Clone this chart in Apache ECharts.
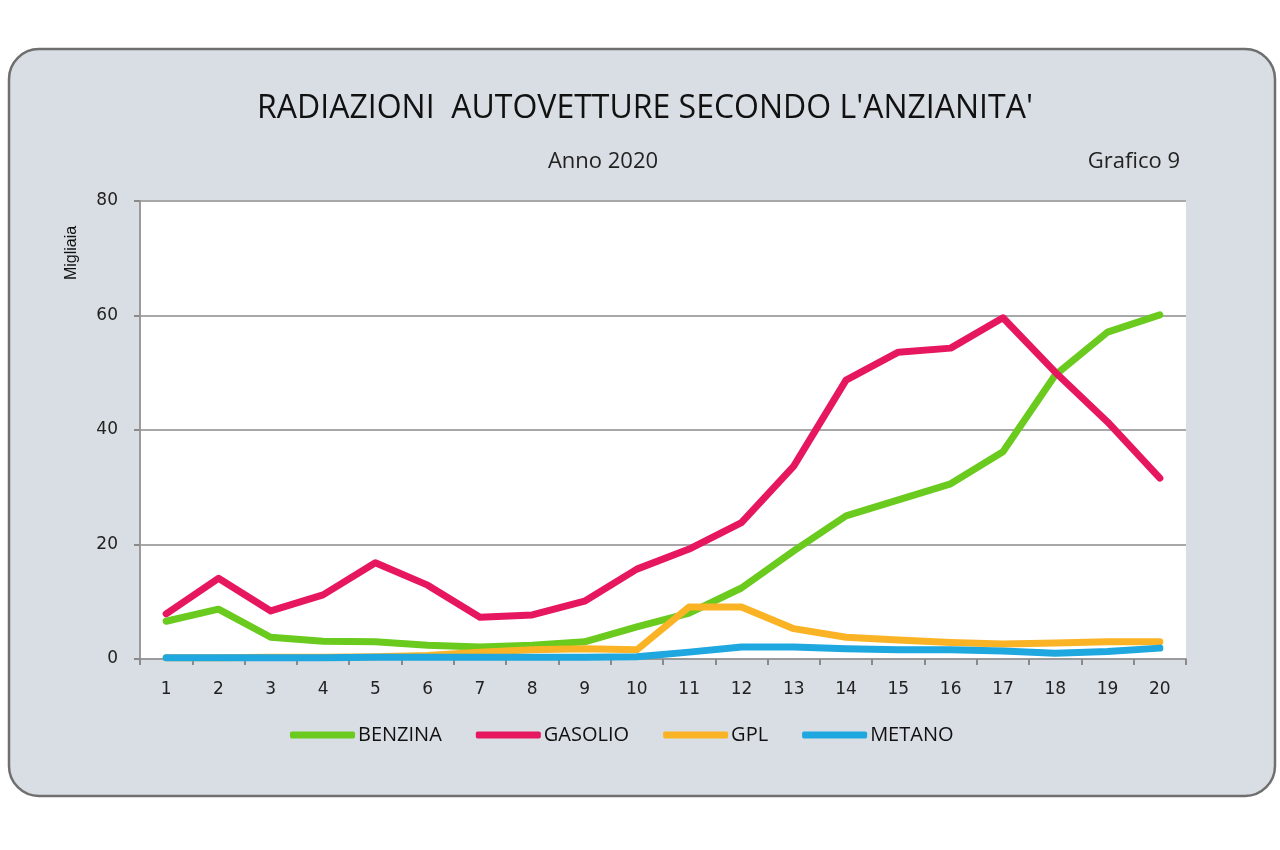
<!DOCTYPE html>
<html>
<head>
<meta charset="utf-8">
<script src="https://cdn.jsdelivr.net/npm/echarts@6/dist/echarts.min.js"></script>
<style>html,body{margin:0;padding:0;background:#fff;}#c{width:1280px;height:850px;}</style>
</head>
<body>
<div id="c"></div>
<script>
const categories = ['1','2','3','4','5','6','7','8','9','10','11','12','13','14','15','16','17','18','19','20'];
const benzina = [6.6, 8.7, 3.8, 3.1, 3.0, 2.4, 2.1, 2.4, 3.0, 5.6, 8.0, 12.4, 18.9, 25.0, 27.8, 30.6, 36.2, 49.6, 57.1, 60.1];
const gasolio = [7.9, 14.1, 8.4, 11.2, 16.8, 12.9, 7.3, 7.7, 10.1, 15.7, 19.2, 23.8, 33.7, 48.7, 53.6, 54.3, 59.6, 50.1, 41.4, 31.6];
const gpl = [0.2, 0.2, 0.3, 0.3, 0.4, 0.6, 1.2, 1.6, 1.8, 1.6, 9.1, 9.1, 5.3, 3.8, 3.3, 2.9, 2.6, 2.8, 3.0, 3.0];
const metano = [0.2, 0.2, 0.2, 0.2, 0.3, 0.3, 0.3, 0.3, 0.3, 0.4, 1.2, 2.1, 2.1, 1.8, 1.6, 1.6, 1.4, 1.0, 1.3, 1.9];
const yTicks = [0, 20, 40, 60, 80];

const FONT = '"Open Sans", sans-serif';
const chart = echarts.init(document.getElementById('c'));
const mk = (name, data, color) => ({
  name, type: 'line', data, symbol: 'none', smooth: false,
  lineStyle: { color, width: 7, cap: 'round', join: 'round' },
  itemStyle: { color }
});
chart.setOption({
  animation: false,
  backgroundColor: '#ffffff',
  graphic: [
    { type: 'rect', z: -10, shape: { x: 9, y: 49, width: 1266, height: 747, r: 30 },
      style: { fill: '#d9dee4', stroke: '#6f6f6f', lineWidth: 2.5 } },
    { type: 'rect', z: -9, shape: { x: 140, y: 201, width: 1046, height: 458 },
      style: { fill: '#ffffff' } },
    { type: 'text', x: 645, y: 109, style: { text: "RADIAZIONI  AUTOVETTURE SECONDO L'ANZIANITA'", font: '32px ' + FONT, fill: '#111', align: 'center', verticalAlign: 'middle' } },
    { type: 'text', x: 603, y: 162, style: { text: 'Anno 2020', font: '22px ' + FONT, fill: '#222', align: 'center', verticalAlign: 'middle' } },
    { type: 'text', x: 1180, y: 162, style: { text: 'Grafico 9', font: '22px ' + FONT, fill: '#222', align: 'right', verticalAlign: 'middle' } },
    { type: 'text', x: 72, y: 253, rotation: Math.PI / 2, style: { text: 'Migliaia', font: '16px "Liberation Sans", sans-serif', fill: '#111', align: 'center', verticalAlign: 'middle' } }
  ],
  grid: { left: 140, right: 94, top: 201, bottom: 191, containLabel: false },
  legend: {
    top: 720, left: 285,
    itemWidth: 65, itemHeight: 7, itemGap: 34,
    icon: 'roundRect',
    textStyle: { fontFamily: FONT, fontSize: 20, color: '#111', padding: [0, 0, 0, -2] },
    data: ['BENZINA', 'GASOLIO', 'GPL', 'METANO']
  },
  xAxis: {
    type: 'category', data: categories, boundaryGap: true,
    axisLine: { lineStyle: { color: '#9a9a9a', width: 2 } },
    axisTick: { show: true, length: 6, lineStyle: { color: '#8a8a8a', width: 2 } },
    axisLabel: { fontFamily: '"DejaVu Sans", sans-serif', fontSize: 17, color: '#222', margin: 22 }
  },
  yAxis: {
    type: 'value', min: yTicks[0], max: yTicks[yTicks.length - 1], interval: 20,
    axisLine: { show: true, lineStyle: { color: '#9a9a9a', width: 2 } },
    axisTick: { show: true, length: 6, lineStyle: { color: '#8a8a8a', width: 2 } },
    axisLabel: { fontFamily: '"DejaVu Sans", sans-serif', fontSize: 17, color: '#222', margin: 22 },
    splitLine: { lineStyle: { color: '#a8a8a8', width: 2 } }
  },
  series: [
    mk('BENZINA', benzina, '#6acb1e'),
    mk('GASOLIO', gasolio, '#e6175f'),
    mk('GPL', gpl, '#fbb326'),
    mk('METANO', metano, '#1fa7df')
  ]
});
</script>
</body>
</html>
